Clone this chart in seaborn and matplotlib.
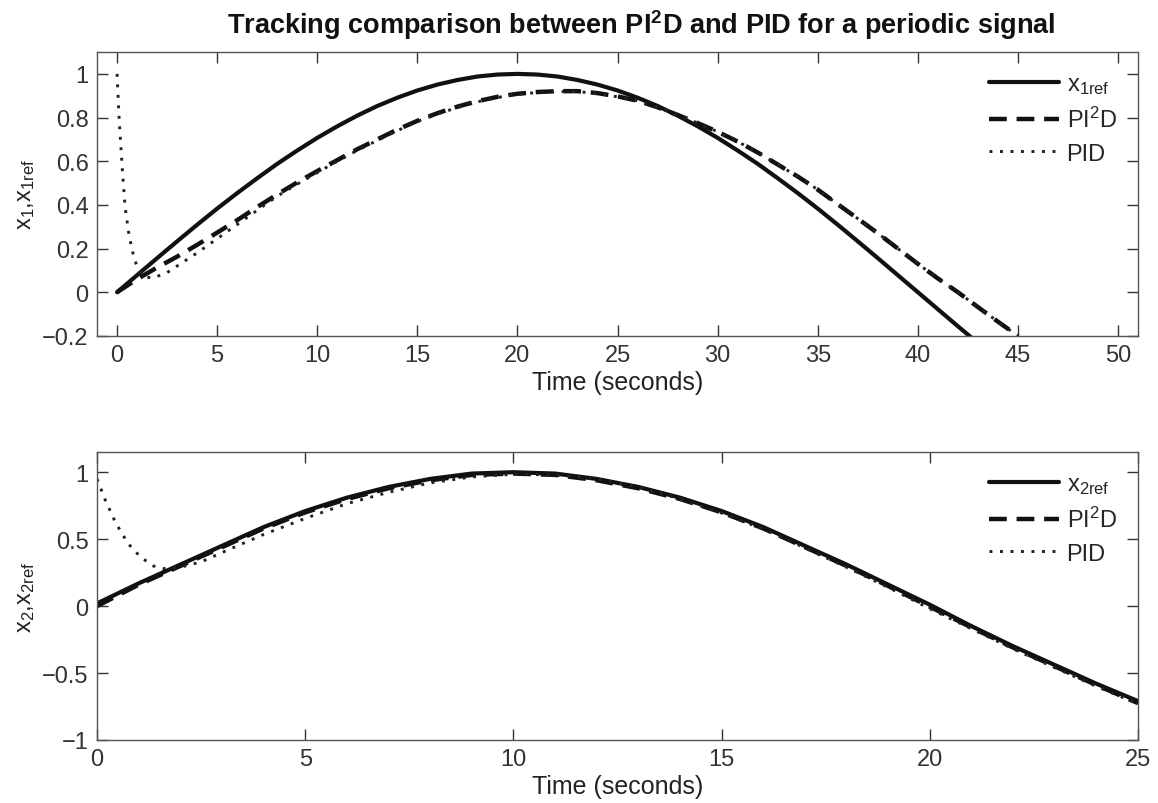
import seaborn as sns
import matplotlib.pyplot as plt
import pandas as pd

# top panel: x1 tracking
t_top_ref = list(range(0, 44))
x1_ref = [0.0, 0.078, 0.156, 0.233, 0.309, 0.383, 0.454, 0.522, 0.588, 0.649,
          0.707, 0.760, 0.809, 0.853, 0.891, 0.924, 0.951, 0.972, 0.988, 0.997,
          1.0, 0.997, 0.988, 0.972, 0.951, 0.924, 0.891, 0.853, 0.809, 0.760,
          0.707, 0.649, 0.588, 0.522, 0.454, 0.383, 0.309, 0.233, 0.156, 0.078,
          0.0, -0.078, -0.156, -0.233]

t_top_pi2d = list(range(0, 46))
x1_pi2d = [0.0, 0.06, 0.113, 0.163, 0.217, 0.273, 0.33, 0.39, 0.448, 0.503,
           0.555, 0.605, 0.655, 0.70, 0.745, 0.785, 0.82, 0.85, 0.875, 0.895,
           0.909, 0.917, 0.921, 0.921, 0.912, 0.897, 0.877, 0.847, 0.812, 0.775,
           0.735, 0.69, 0.64, 0.585, 0.53, 0.47, 0.403, 0.337, 0.27, 0.20,
           0.13, 0.063, 0.0, -0.068, -0.135, -0.2]

t_top_pid = [0, 0.1, 0.25, 0.4, 0.6, 0.85, 1.1, 1.4, 1.8, 2.5, 3, 4, 5, 6, 7, 8, 9,
             10, 11, 12, 13, 14, 15, 16, 17, 18, 19, 20, 21, 22, 23, 24, 25, 26, 27,
             28, 29, 30, 31, 32, 33, 34, 35, 36, 37, 38, 39, 40, 41, 42, 43, 44, 45]
x1_pid = [1.0, 0.8, 0.58, 0.39, 0.26, 0.155, 0.095, 0.07, 0.065, 0.09, 0.12, 0.18, 0.245,
          0.31, 0.375, 0.44, 0.495, 0.548, 0.60, 0.65, 0.695, 0.74, 0.782, 0.816, 0.846,
          0.872, 0.892, 0.906, 0.915, 0.919, 0.919, 0.91, 0.895, 0.877, 0.847, 0.812, 0.775,
          0.735, 0.69, 0.64, 0.585, 0.53, 0.47, 0.403, 0.337, 0.27, 0.20, 0.13, 0.063,
          0.0, -0.068, -0.135, -0.2]

# bottom panel: x2 tracking
t_bot = list(range(0, 26))
x2_ref = [0.02, 0.17, 0.31, 0.45, 0.59, 0.71, 0.81, 0.89, 0.95, 0.99, 1.0, 0.99, 0.95,
          0.89, 0.81, 0.71, 0.59, 0.45, 0.31, 0.16, 0.01, -0.15, -0.3, -0.44, -0.58, -0.71]
x2_pi2d = [0.0, 0.16, 0.30, 0.44, 0.58, 0.70, 0.80, 0.88, 0.94, 0.98, 0.99, 0.98, 0.94,
           0.88, 0.80, 0.70, 0.58, 0.44, 0.30, 0.15, -0.005, -0.16, -0.31, -0.45, -0.59, -0.725]

t_bot_pid = [0, 0.2, 0.45, 0.75, 1.05, 1.35, 1.6, 2, 2.5, 3, 4, 5, 6, 7, 8, 9, 10, 11,
             12, 13, 14, 15, 16, 17, 18, 19, 20, 21, 22, 23, 24, 25]
x2_pid = [0.95, 0.79, 0.62, 0.465, 0.365, 0.30, 0.28, 0.29, 0.33, 0.40, 0.535, 0.655,
          0.765, 0.85, 0.92, 0.965, 0.985, 0.98, 0.95, 0.89, 0.80, 0.695, 0.575, 0.435,
          0.29, 0.14, -0.02, -0.17, -0.32, -0.46, -0.60, -0.73]

sns.set_theme(style="ticks")
plt.rcParams['font.family'] = ['Liberation Sans', 'DejaVu Sans']
plt.rcParams['mathtext.default'] = 'regular'

fig = plt.figure(figsize=(11.58, 8.04), dpi=100)
ax1 = fig.add_axes([0.0838, 0.581, 0.899, 0.353])
ax2 = fig.add_axes([0.0838, 0.0784, 0.899, 0.358])

solid_kw = dict(color="#111111", lw=3.0, linestyle="-")
dash_kw = dict(color="#111111", lw=3.2, linestyle=(0, (4, 2.2)))
dot_kw = dict(color="#222222", lw=2.1, linestyle=(0, (1, 2.6)))


def draw(ax, t_ref, ref, t_p2, p2, t_pid, pid, ref_label):
    sns.lineplot(x=t_ref, y=ref, ax=ax, label=ref_label, **solid_kw)
    sns.lineplot(x=t_p2, y=p2, ax=ax, label="PI$^2$D", **dash_kw)
    sns.lineplot(x=t_pid, y=pid, ax=ax, label="PID", **dot_kw)
    ax.legend(loc="upper right", frameon=False, fontsize=17, handlelength=3.0,
              labelspacing=0.45, borderaxespad=0.5, handletextpad=0.3)
    ax.tick_params(direction="in", top=True, right=True, length=8, width=1,
                   labelsize=17, colors="#333333", labelcolor="#333333", pad=6)
    for sp in ax.spines.values():
        sp.set_color("#555555")
        sp.set_linewidth(1.0)
    ax.set_xlabel("Time (seconds)", fontsize=18, color="#222222", labelpad=3)


draw(ax1, t_top_ref, x1_ref, t_top_pi2d, x1_pi2d, t_top_pid, x1_pid, "x$_{1ref}$")
ax1.set_xlim(-1, 51)
ax1.set_ylim(-0.2, 1.1)
ax1.set_xticks([0, 5, 10, 15, 20, 25, 30, 35, 40, 45, 50])
ax1.set_yticks([-0.2, 0, 0.2, 0.4, 0.6, 0.8, 1])
ax1.set_yticklabels(["\u22120.2", "0", "0.2", "0.4", "0.6", "0.8", "1"])
ax1.set_ylabel("x$_1$,x$_{1ref}$", fontsize=17, color="#222222", labelpad=4)
ax1.set_title("Tracking comparison between PI$^2$D and PID for a periodic signal",
              fontsize=19.5, fontweight="bold", color="#111111", pad=14, x=0.523)

draw(ax2, t_bot, x2_ref, t_bot, x2_pi2d, t_bot_pid, x2_pid, "x$_{2ref}$")
ax2.set_xlim(0, 25)
ax2.set_ylim(-1, 1.15)
ax2.set_xticks([0, 5, 10, 15, 20, 25])
ax2.set_yticks([-1, -0.5, 0, 0.5, 1])
ax2.set_yticklabels(["\u22121", "\u22120.5", "0", "0.5", "1"])
ax2.set_ylabel("x$_2$,x$_{2ref}$", fontsize=17, color="#222222", labelpad=4)

fig.savefig("out.png", dpi=100)
